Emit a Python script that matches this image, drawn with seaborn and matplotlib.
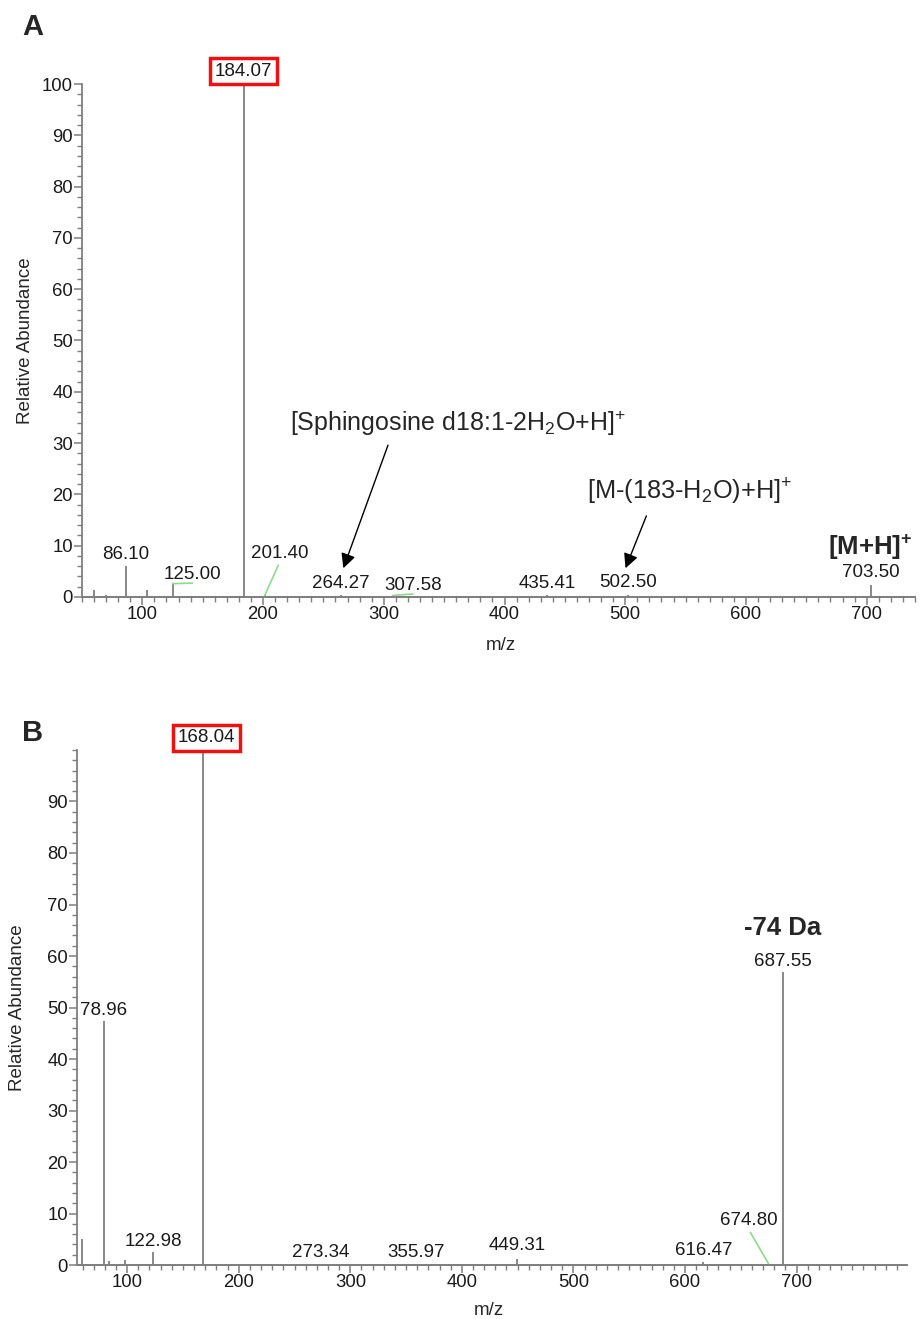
import numpy as np
import pandas as pd
import matplotlib
matplotlib.use("Agg")
import matplotlib.pyplot as plt
from matplotlib.ticker import MultipleLocator
import seaborn as sns

# ── 데이터 ────────────────────────────────────────────────────────────
A_MZ = [60.1, 70.3, 86.10, 104.1, 125.00, 184.07, 201.40, 264.27, 307.58, 435.41, 502.50, 703.50]
A_INT = [1.4, 0.4, 6.0, 1.4, 2.6, 100.0, 0.3, 0.3, 0.3, 0.3, 0.4, 2.3]

B_MZ = [59.5, 78.96, 84.0, 97.9, 122.98, 168.04, 273.34, 355.97, 449.31, 616.47, 674.80, 687.55]
B_INT = [5.0, 47.3, 0.8, 1.0, 2.5, 100.0, 0.3, 0.3, 1.2, 0.6, 0.3, 56.8]

# 라벨: (m/z, 텍스트, dx px, dy px, 초록 리더선, 빨간 박스)
A_LABELS = [
    (86.10, "86.10", 0, 12, False, False),
    (125.00, "125.00", 20, 9, True, False),
    (184.07, "184.07", 0, 13, False, True),
    (201.40, "201.40", 15, 42, True, False),
    (264.27, "264.27", 0, 12, False, False),
    (307.58, "307.58", 20, 10, True, False),
    (435.41, "435.41", 0, 12, False, False),
    (502.50, "502.50", 0, 12, False, False),
    (703.50, "703.50", 0, 13, False, False),
]
B_LABELS = [
    (78.96, "78.96", 0, 11, False, False),
    (122.98, "122.98", 1, 11, False, False),
    (168.04, "168.04", 3, 12, False, True),
    (273.34, "273.34", 0, 11, False, False),
    (355.97, "355.97", 3, 11, False, False),
    (449.31, "449.31", 0, 13, False, False),
    (616.47, "616.47", 0, 11, False, False),
    (674.80, "674.80", -20, 43, True, False),
    (687.55, "687.55", 0, 11, False, False),
]

GRAY = "#7f7f7f"
GREEN = "#8fd88f"
PX = 0.72  # 1 px → pt (dpi=100)

sns.set_style("ticks")
plt.rcParams["font.family"] = ["Liberation Sans", "DejaVu Sans"]
plt.rcParams["mathtext.fontset"] = "custom"
plt.rcParams["mathtext.rm"] = "Liberation Sans"
plt.rcParams["mathtext.it"] = "Liberation Sans:italic"
plt.rcParams["mathtext.bf"] = "Liberation Sans:bold"


def _style_axis(ax, xlim, ymajor):
    ax.set_xlim(*xlim)
    ax.set_ylim(0, 100)
    sns.despine(ax=ax)
    for s in ("left", "bottom"):
        ax.spines[s].set_color(GRAY)
        ax.spines[s].set_linewidth(1.3)
    ax.set_xticks(range(100, int(xlim[1]) - 1, 100))
    ax.xaxis.set_minor_locator(MultipleLocator(10))
    ax.set_yticks(ymajor)
    ax.yaxis.set_minor_locator(MultipleLocator(2))
    ax.tick_params(which="major", length=5.5, width=1.1, color=GRAY,
                   labelsize=13.3, labelcolor="#1a1a1a", pad=1)
    ax.tick_params(which="minor", length=3.5, width=1.0, color=GRAY)
    ax.set_xlabel("m/z", fontsize=13.5)
    ax.set_ylabel("Relative Abundance", fontsize=13.5)


def _draw_spectrum(ax, mz, inten, labels):
    df = pd.DataFrame({"mz": mz, "int": inten})
    ax.vlines(df["mz"], 0, df["int"], color=GRAY, linewidth=1.3, zorder=3)
    ax.axhline(0, color=GRAY, linewidth=1.3, zorder=2, clip_on=False)
    lookup = dict(zip(mz, inten))
    for m, txt, dx, dy, green, box in labels:
        kw = dict(fontsize=13.5, color="#1a1a1a", ha="center", va="center",
                  textcoords="offset points", annotation_clip=False, zorder=5)
        if green:
            kw["arrowprops"] = dict(arrowstyle="-", color=GREEN, lw=1.2,
                                    shrinkA=0, shrinkB=0, relpos=(0.5, 0.0))
        if box:
            kw["bbox"] = dict(boxstyle="square,pad=0.25", facecolor="white",
                              edgecolor="#ee1111", linewidth=2.5)
        ax.annotate(txt, xy=(m, lookup[m]), xytext=(dx * PX, dy * PX), **kw)


fig = plt.figure(figsize=(9.22, 13.19), dpi=100)

# ── 패널 A ──────────────────────────────────────────────────────────────────
axA = fig.add_axes([0.0889, 0.5474, 0.9035, 0.3889])
_style_axis(axA, (50, 740), list(range(0, 101, 10)))
_draw_spectrum(axA, A_MZ, A_INT, A_LABELS)
axA.xaxis.set_label_coords(0.503, -0.078)
axA.yaxis.set_label_coords(-0.058, 0.5)

arrow = dict(arrowstyle="-|>", color="black", lw=1.0, mutation_scale=22,
             shrinkA=0, shrinkB=0)
axA.annotate("", xy=(266.5, 5.6), xytext=(303.5, 29.6), arrowprops=arrow)
axA.text(361, 33.9, r"[Sphingosine d18:1-2H$_2$O+H]$^{+}$", fontsize=18,
         ha="center", va="center")
axA.annotate("", xy=(500.2, 5.6), xytext=(517.5, 15.8), arrowprops=arrow)
axA.text(553, 20.5, r"[M-(183-H$_2$O)+H]$^{+}$", fontsize=18.3,
         ha="center", va="center")
axA.text(703, 9.6, r"[M+H]$^{\mathbf{+}}$", fontsize=18.5, fontweight="bold",
         ha="center", va="center")

# ── 패널 B ──────────────────────────────────────────────────────────────────
axB = fig.add_axes([0.0835, 0.0409, 0.9002, 0.3905])
_style_axis(axB, (55, 799), list(range(0, 91, 10)))
_draw_spectrum(axB, B_MZ, B_INT, B_LABELS)
axB.xaxis.set_label_coords(0.496, -0.071)
axB.yaxis.set_label_coords(-0.062, 0.5)
axB.annotate("-74 Da", xy=(687.55, 56.8), xytext=(0, 44 * PX),
             textcoords="offset points", fontsize=18.5, fontweight="bold",
             ha="center", va="center")

fig.text(0.024, 0.9795, "A", fontsize=21, fontweight="bold", va="center")
fig.text(0.024, 0.4443, "B", fontsize=21, fontweight="bold", va="center")

fig.savefig("out.png", dpi=100, facecolor="white")
